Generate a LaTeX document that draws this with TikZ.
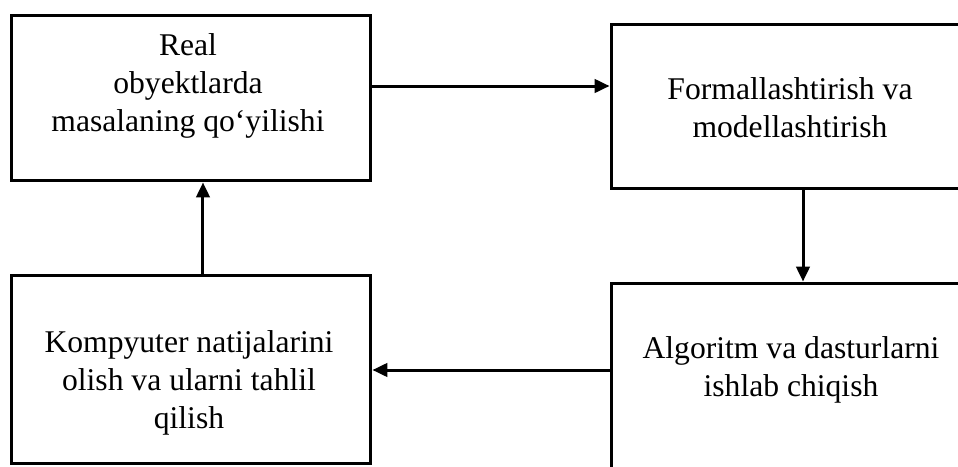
\documentclass[tikz,border=0pt]{standalone}
\usepackage{fontspec}
\setmainfont{Liberation Serif}
\usetikzlibrary{arrows.meta}
\tikzset{
  stage/.style={draw, line width=0.06cm, rectangle, inner sep=0pt},
  stagetext/.style={align=center, font=\fontsize{18}{21.5}\selectfont, inner sep=0pt},
  flow/.style={line width=0.06cm, -{Triangle[length=0.3cm, width=0.27cm]}}
}
\begin{document}
\begin{tikzpicture}[x=0.02cm, y=-0.02cm]
            \useasboundingbox (0,0) rectangle (958,467);

            % Drawing box real
            \node [stage, minimum width=7.2cm, minimum height=3.32cm] (real) at (191,98) {};%
            \node [stagetext] (realtext) at (188,86) {Real\\obyektlarda\\masalaning qo‘yilishi};%

            % Drawing box formal
            \node [stage, minimum width=7.68cm, minimum height=3.3cm] (formal) at (803,106.5) {};%
            \node [stagetext] (formaltext) at (790,108) {Formallashtirish va\\modellashtirish};%

            % Drawing box algoritm
            \node [stage, minimum width=7.68cm, minimum height=4.4cm] (algo) at (803,393) {};%
            \node [stagetext] (algotext) at (791,370) {Algoritm va dasturlarni\\ishlab chiqish};%

            % Drawing box kompyuter
            \node [stage, minimum width=7.2cm, minimum height=3.78cm] (komp) at (191,369.5) {};%
            \node [stagetext] (komptext) at (189,383) {Kompyuter natijalarini\\olish va ularni tahlil\\qilish};%

            % Drawing arrows
            \draw [flow] (real.east |- realtext) -- (formal.west |- realtext);%
            \draw [flow] (formal.south) -- (algo.north);%
            \draw [flow] (algo.west |- algotext) -- (komp.east |- algotext);%
            \draw [flow] ([xshift=0.24cm]komp.north) -- ([xshift=0.24cm]real.south);%
\end{tikzpicture}
\end{document}
